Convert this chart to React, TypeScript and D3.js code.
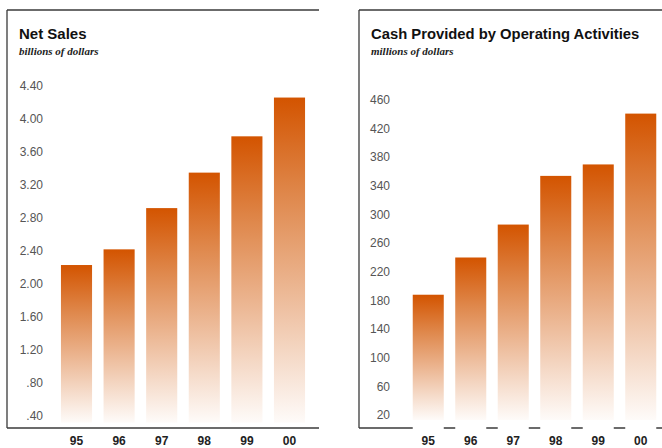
import React from "react";
import * as d3 from "d3";

const years = ["95", "96", "97", "98", "99", "00"];
const netSales = [2.23, 2.42, 2.92, 3.35, 3.79, 4.26];
const netSalesTicks = [0.4, 0.8, 1.2, 1.6, 2.0, 2.4, 2.8, 3.2, 3.6, 4.0, 4.4];
const cashOps = [188, 240, 286, 354, 370, 441];
const cashTicks = [20, 60, 100, 140, 180, 220, 260, 300, 340, 380, 420, 460];

const fmtSales = (v: number) => {
  const s = v.toFixed(2);
  return s.startsWith("0") ? s.slice(1) : s;
};

const gradStops = [
  [0, "#d35400"],
  [0.3, "#df884c"],
  [0.55, "#eab089"],
  [0.8, "#f5dac8"],
  [1, "#fefbf9"],
];

function Panel(props: {
  x0: number;
  right: number;
  title: string;
  titleSize: number;
  subtitle: string;
  values: number[];
  ticks: number[];
  fmt: (v: number) => string;
  yDomain: [number, number];
  yRange: [number, number];
  base: number;
  xRange: [number, number];
  labelX: number;
  gapAxis: boolean;
}) {
  const { x0, right, title, titleSize, subtitle, values, ticks, fmt, yDomain, yRange, base, xRange, labelX, gapAxis } = props;
  const y = d3.scaleLinear().domain(yDomain).range(yRange);
  const x = d3.scaleBand<string>().domain(years).range(xRange).paddingInner(0.27).paddingOuter(0.135);
  const axisY = 428;
  const frameColor = "#3a3a3a";
  return (
    <g>
      <line x1={x0} x2={right} y1={10} y2={10} stroke={frameColor} strokeWidth={1.3} />
      <line x1={x0} x2={x0} y1={10} y2={axisY} stroke={frameColor} strokeWidth={1.3} />
      <line x1={x0} x2={right} y1={axisY} y2={axisY} stroke={frameColor} strokeWidth={1.3} />
      <text x={x0 + 12} y={39} fontFamily="Liberation Sans, Arial, sans-serif" fontWeight="bold" fontSize={titleSize} fill="#111">
        {title}
      </text>
      <text x={x0 + 12} y={55} fontFamily="Liberation Serif, Times New Roman, serif" fontStyle="italic" fontWeight="bold" fontSize={11} fill="#222">
        {subtitle}
      </text>
      {ticks.map((t) => (
        <text key={t} x={labelX} y={y(t)} dy="0.35em" textAnchor="end" fontFamily="Liberation Sans, Arial, sans-serif" fontSize={12} fill="#555">
          {fmt(t)}
        </text>
      ))}
      {values.map((v, i) => {
        const bx = x(years[i]) as number;
        const top = y(v);
        const bottom = y(base);
        return (
          <g key={years[i]}>
            {gapAxis && <rect x={bx} y={top} width={x.bandwidth()} height={axisY + 2 - top} fill="#fff" />}
            <rect x={bx} y={top} width={x.bandwidth()} height={bottom - top} fill="url(#barGrad)" />
          </g>
        );
      })}
      {years.map((yr) => (
        <text key={yr} x={(x(yr) as number) + x.bandwidth() / 2} y={445} textAnchor="middle" fontFamily="Liberation Sans, Arial, sans-serif" fontWeight="bold" fontSize={12} fill="#222">
          {yr}
        </text>
      ))}
    </g>
  );
}

export default function App() {
  return (
    <svg width={662} height={448} style={{ position: "absolute", left: 0, top: 0 }}>
      <defs>
        <linearGradient id="barGrad" x1="0" y1="0" x2="0" y2="1">
          {gradStops.map(([o, c]) => (
            <stop key={String(o)} offset={o as number} stopColor={c as string} />
          ))}
        </linearGradient>
      </defs>
      <rect width={662} height={448} fill="#fff" />
      <Panel
        x0={7}
        right={319}
        title="Net Sales"
        titleSize={15}
        subtitle="billions of dollars"
        values={netSales}
        ticks={netSalesTicks}
        fmt={fmtSales}
        yDomain={[0.4, 4.4]}
        yRange={[416, 86]}
        base={0.32}
        xRange={[55.2, 310.8]}
        labelX={43}
        gapAxis={false}
      />
      <Panel
        x0={359}
        right={662}
        title="Cash Provided by Operating Activities"
        titleSize={14.8}
        subtitle="millions of dollars"
        values={cashOps}
        ticks={cashTicks}
        fmt={(v) => String(v)}
        yDomain={[20, 460]}
        yRange={[415, 100]}
        base={13}
        xRange={[407, 662]}
        labelX={390}
        gapAxis={true}
      />
    </svg>
  );
}
